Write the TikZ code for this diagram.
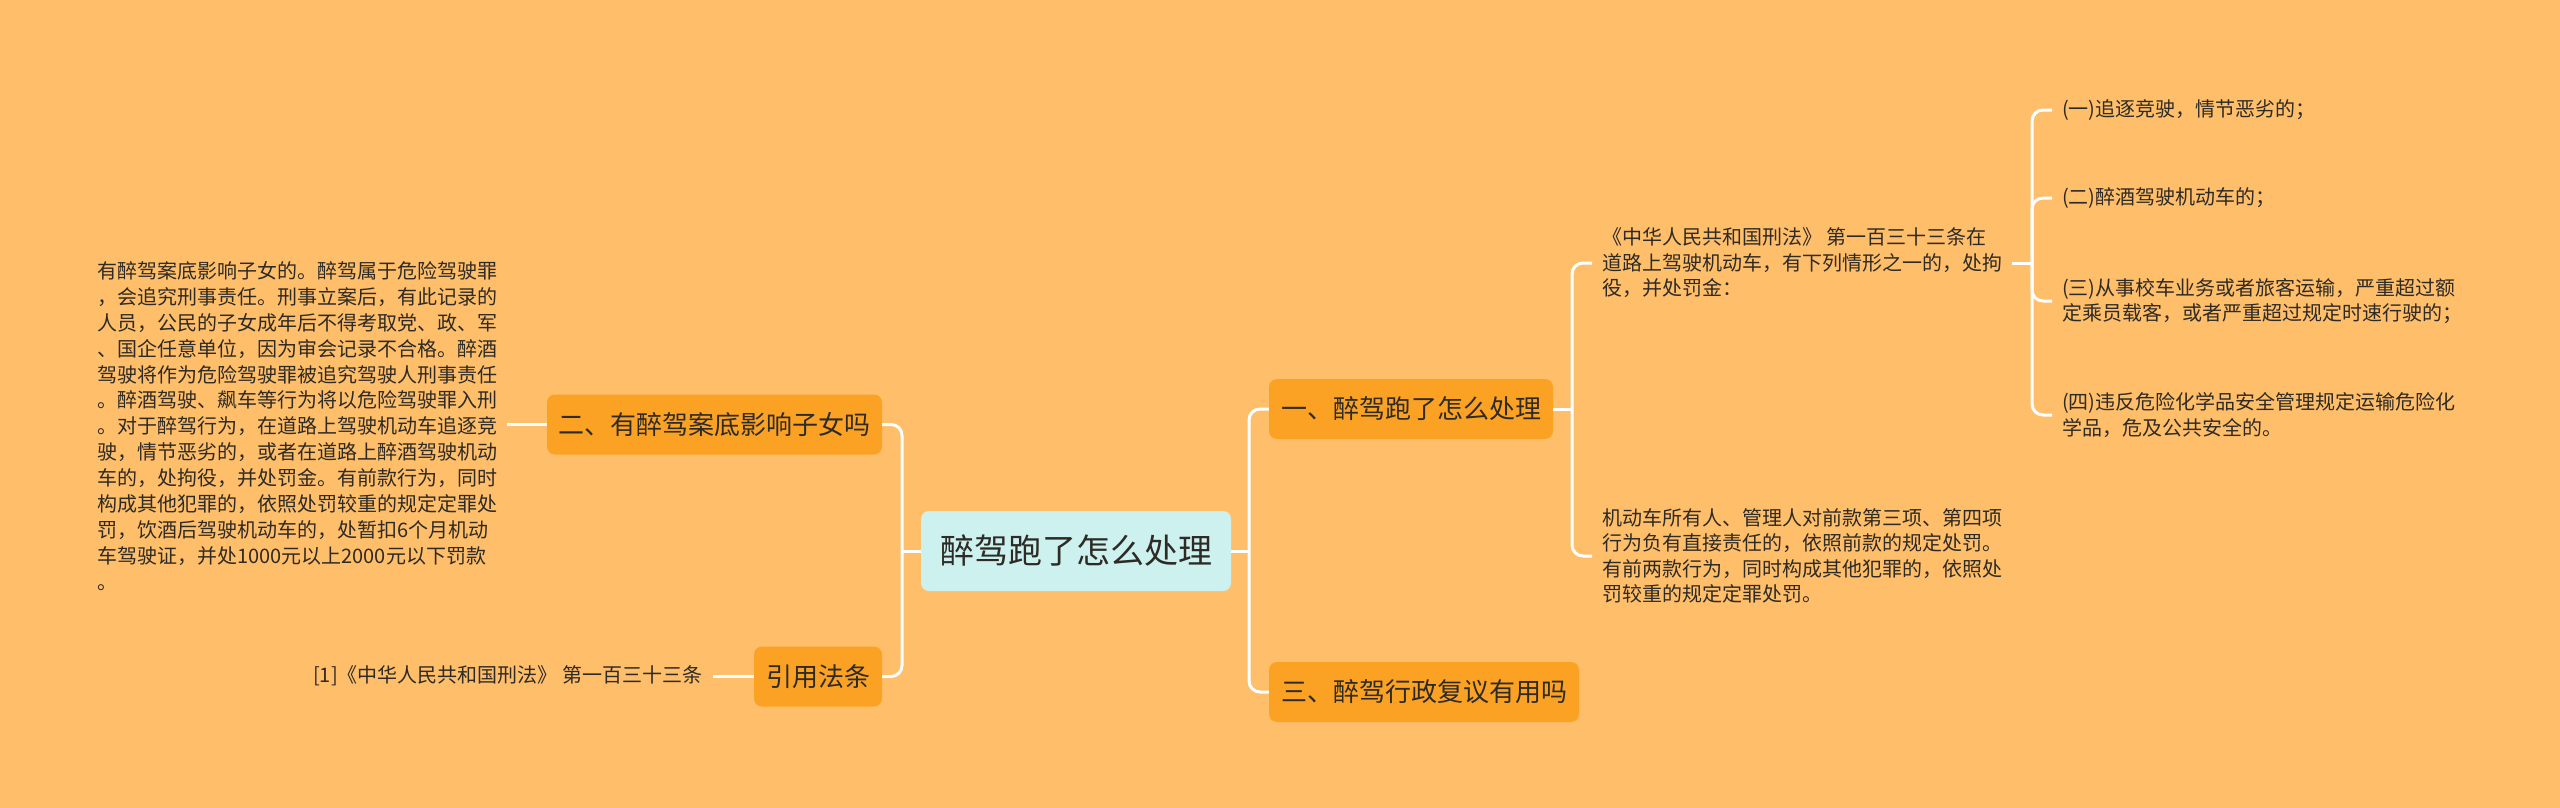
\documentclass[tikz,border=0pt]{standalone}
\usepackage{fontspec}
\setmainfont{Noto Sans CJK SC}
\definecolor{bgc}{HTML}{FEBE6A}
\definecolor{boxc}{HTML}{FBA225}
\definecolor{rootc}{HTML}{CCF1EE}
\definecolor{txtc}{HTML}{2E2A25}
\tikzset{
  rootbox/.style={fill=rootc, rounded corners=8pt, inner sep=0pt, minimum width=310pt, minimum height=80pt, text=txtc, font=\fontsize{34}{40}\selectfont},
  mainbox/.style={fill=boxc, rounded corners=8pt, inner sep=0pt, minimum height=60pt, text=txtc, font=\fontsize{26}{30}\selectfont},
  leaftext/.style={inner sep=10pt, align=left, text=txtc, font=\fontsize{20}{25.5}\selectfont},
  link/.style={draw=white, line width=3pt, rounded corners=11pt},
}
\begin{document}
\begin{tikzpicture}[x=1pt,y=-1pt]
\fill[bgc] (0,0) rectangle (2560,808);
\useasboundingbox (0,0) rectangle (2560,808);

% root and main branches
\node[rootbox] (root) at (1076,551) {醉驾跑了怎么处理};
\node[mainbox, minimum width=284pt] (n1) at (1411,409) {一、醉驾跑了怎么处理};
\node[mainbox, minimum width=310pt] (n3) at (1424,692) {三、醉驾行政复议有用吗};
\node[mainbox, minimum width=335pt] (n2) at (714.5,424.5) {二、有醉驾案底影响子女吗};
\node[mainbox, minimum width=128pt] (ref) at (818,676.5) {引用法条};

% left texts
\node[leaftext, anchor=west, font=\fontsize{20}{25.9}\selectfont] (t2) at (87,426) {有醉驾案底影响子女的。醉驾属于危险驾驶罪\\，会追究刑事责任。刑事立案后，有此记录的\\人员，公民的子女成年后不得考取党、政、军\\、国企任意单位，因为审会记录不合格。醉酒\\驾驶将作为危险驾驶罪被追究驾驶人刑事责任\\。醉酒驾驶、飙车等行为将以危险驾驶罪入刑\\。对于醉驾行为，在道路上驾驶机动车追逐竞\\驶，情节恶劣的，或者在道路上醉酒驾驶机动\\车的，处拘役，并处罚金。有前款行为，同时\\构成其他犯罪的，依照处罚较重的规定定罪处\\罚，饮酒后驾驶机动车的，处暂扣6个月机动\\车驾驶证，并处1000元以上2000元以下罚款\\。};
\node[leaftext, anchor=west] (rt) at (303,676) {[1]《中华人民共和国刑法》 第一百三十三条};

% right texts
\node[leaftext, anchor=west] (c1) at (1592,263) {《中华人民共和国刑法》 第一百三十三条在\\道路上驾驶机动车，有下列情形之一的，处拘\\役，并处罚金：};
\node[leaftext, anchor=west] (c2) at (1592,556) {机动车所有人、管理人对前款第三项、第四项\\行为负有直接责任的，依照前款的规定处罚。\\有前两款行为，同时构成其他犯罪的，依照处\\罚较重的规定定罪处罚。};
\node[leaftext, anchor=west] (i1) at (2052,110) {(一)追逐竞驶，情节恶劣的；};
\node[leaftext, anchor=west] (i2) at (2052,198) {(二)醉酒驾驶机动车的；};
\node[leaftext, anchor=west] (i3) at (2052,301) {(三)从事校车业务或者旅客运输，严重超过额\\定乘员载客，或者严重超过规定时速行驶的；};
\node[leaftext, anchor=west] (i4) at (2052,415) {(四)违反危险化学品安全管理规定运输危险化\\学品，危及公共安全的。};

% bus coordinates
\coordinate (bL) at (902,551);
\coordinate (bR) at (1249,551);
\coordinate (b1) at (1572,409);
\coordinate (b2) at (2032,263);

% connectors
\draw[link] (root.west) -- (bL);
\draw[link] (bL) |- (n2.east);
\draw[link] (bL) |- (ref.east);
\draw[link] (root.east) -- (bR);
\draw[link] (bR) |- (n1.west);
\draw[link] (bR) |- (n3.west);
\draw[link] (n1.east) -- (b1);
\draw[link] (b1) |- (c1.west);
\draw[link] (b1) |- (c2.west);
\draw[link] (c1.east) -- (b2);
\draw[link] (b2) |- (i1.west);
\draw[link] (b2) |- (i2.west);
\draw[link] (b2) |- (i3.west);
\draw[link] (b2) |- (i4.west);
\draw[link] (n2.west) -- (n2.west -| t2.east);
\draw[link] (ref.west) -- (ref.west -| rt.east);
\end{tikzpicture}
\end{document}
